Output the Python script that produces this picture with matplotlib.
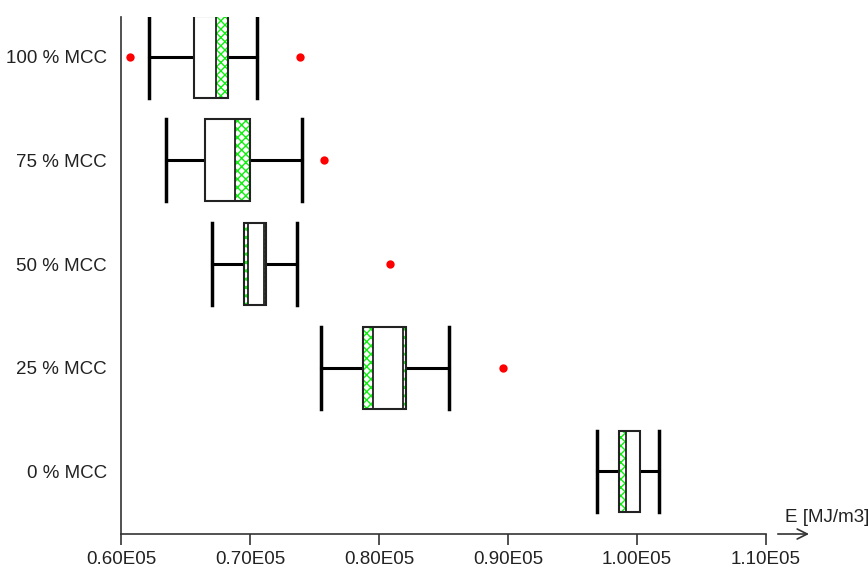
import matplotlib.pyplot as plt
from matplotlib.patches import Rectangle

plt.rcParams['font.family'] = ['Liberation Sans', 'DejaVu Sans']
plt.rcParams['hatch.linewidth'] = 1.0

# one row per MCC content, bottom to top
labels = ['0 % MCC', '25 % MCC', '50 % MCC', '75 % MCC', '100 % MCC']
whisker_lo = [96870, 75500, 67030, 63510, 62190]
q1 = [98630, 78730, 69510, 66510, 65640]
inner_lo = [99120, 79560, 69820, 66510, 65640]
inner_hi = [100230, 81890, 71090, 68860, 67340]
q3 = [100230, 82090, 71270, 70030, 68320]
whisker_hi = [101680, 85400, 73640, 74000, 70570]
outliers = [[], [89590], [80850], [75740], [60700, 73880]]

xticks = [60000, 70000, 80000, 90000, 100000, 110000]
xticklabels = ['0.60E05', '0.70E05', '0.80E05', '0.90E05', '1.00E05', '1.10E05']

fig = plt.figure(figsize=(8.68, 5.69), dpi=100)
ax = fig.add_axes([0.1394, 0.0615, 0.7431, 0.9086])

h = 0.395
for i in range(len(labels)):
    # whiskers
    ax.plot([whisker_lo[i], q1[i]], [i, i], color='black', lw=2.2, zorder=2)
    ax.plot([q3[i], whisker_hi[i]], [i, i], color='black', lw=2.2, zorder=2)
    ax.plot([whisker_lo[i]] * 2, [i - h, i + h], color='black', lw=2.5, zorder=2)
    ax.plot([whisker_hi[i]] * 2, [i - h, i + h], color='black', lw=2.5, zorder=2)
    # hatched box, white inner part, outline
    ax.add_patch(Rectangle((q1[i], i - h), q3[i] - q1[i], 2 * h,
                           facecolor='white', edgecolor='#11ee11', lw=0,
                           hatch='xxxx', zorder=3))
    ax.add_patch(Rectangle((inner_lo[i], i - h), inner_hi[i] - inner_lo[i], 2 * h,
                           facecolor='white', edgecolor='#222222', lw=1.3, zorder=4))
    ax.add_patch(Rectangle((q1[i], i - h), q3[i] - q1[i], 2 * h,
                           facecolor='none', edgecolor='#222222', lw=1.5, zorder=5))
    if outliers[i]:
        ax.plot(outliers[i], [i] * len(outliers[i]), 'o', color='#ff0000',
                markersize=6, markeredgewidth=0, zorder=6)

ax.set_xlim(60000, 110000)
ax.set_ylim(-0.603, 4.383)
ax.set_xticks(xticks)
ax.set_xticklabels(xticklabels)
ax.set_yticks(range(len(labels)))
ax.set_yticklabels(labels)

for side in ['top', 'right']:
    ax.spines[side].set_visible(False)
for side in ['left', 'bottom']:
    ax.spines[side].set_color('#333333')
    ax.spines[side].set_linewidth(1.2)
ax.tick_params(axis='x', length=8, width=1.2, color='#333333',
               labelsize=13.5, labelcolor='#222222', pad=4)
ax.tick_params(axis='y', length=0, labelsize=13.5, labelcolor='#222222', pad=10)

# axis arrow and unit label
ax.annotate('', xy=(1.071, 0), xytext=(1.014, 0), xycoords='axes fraction',
            arrowprops=dict(arrowstyle='->', color='#333333', lw=1.2,
                            mutation_scale=18),
            annotation_clip=False)
ax.text(1.029, 0.031, 'E [MJ/m3]', transform=ax.transAxes, fontsize=13.5,
        color='#222222', ha='left', va='center', clip_on=False)

fig.savefig('out.png', dpi=100)
